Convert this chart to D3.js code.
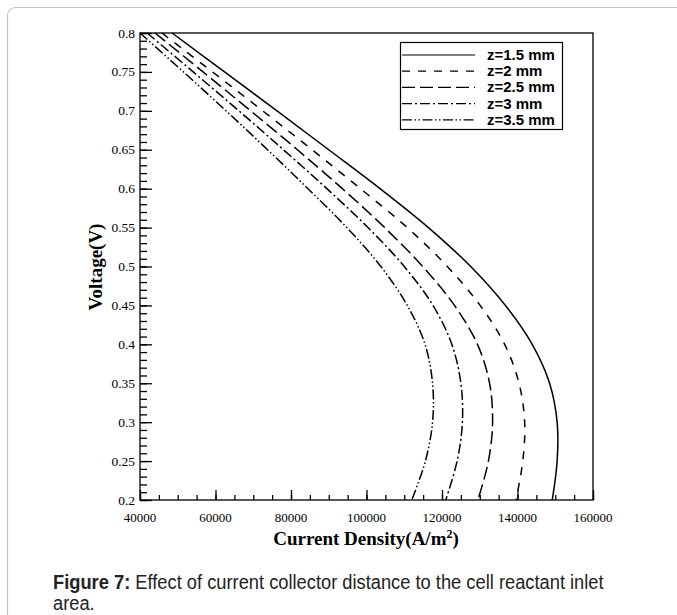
<!DOCTYPE html>
<html lang="en">
<head>
<meta charset="utf-8">
<script src="https://d3js.org/d3.v7.min.js"></script>
<style>
  body { margin: 0; background: #fff; }
  svg { display: block; }
</style>
</head>
<body>
<script>
// voltage grid shared by every curve
var voltage = [0.8, 0.75, 0.7, 0.65, 0.6, 0.55, 0.5, 0.45, 0.4, 0.35, 0.3, 0.25, 0.2];

// current density (A/m2), one list per distance
var z15 = [48500, 62400, 76300, 90000, 103600, 116400, 127600, 136800, 143900, 148500, 150500, 150500, 149200];
var z20 = [45800, 59200, 72500, 85600, 98400, 110800, 121400, 130100, 136600, 140400, 141900, 141400, 139600];
var z25 = [44000, 56700, 69300, 81700, 93600, 104800, 114900, 123300, 129400, 132600, 133400, 132300, 129500];
var z30 = [41900, 54100, 66200, 78000, 89500, 100400, 110000, 117600, 122600, 125000, 125400, 124000, 121000];
var z35 = [40000, 51500, 62800, 73800, 84500, 94800, 103800, 110800, 115500, 117500, 117500, 115600, 112000];

var seriesNames = ["z=1.5 mm", "z=2 mm", "z=2.5 mm", "z=3 mm", "z=3.5 mm"];
var seriesValues = [z15, z20, z25, z30, z35];
var dashes = ["none", "8,8", "13,5", "10,3,2,3", "10,2.5,1.5,2.5,1.5,2.5"];

var xTicks = [40000, 60000, 80000, 100000, 120000, 140000, 160000];
var yTicks = [0.2, 0.25, 0.3, 0.35, 0.4, 0.45, 0.5, 0.55, 0.6, 0.65, 0.7, 0.75, 0.8];

var width = 677, height = 615;
var plot = {left: 140, right: 593, top: 33, bottom: 500};

var svg = d3.select("body").append("svg")
  .attr("width", width)
  .attr("height", height);

// page frame
svg.append("rect")
  .attr("x", 7.5).attr("y", 7.5)
  .attr("width", 720).attr("height", 700)
  .attr("rx", 8)
  .attr("fill", "none")
  .attr("stroke", "#c4c4c4")
  .attr("stroke-width", 1.2);

var x = d3.scaleLinear().domain([40000, 160000]).range([plot.left, plot.right]);
var y = d3.scaleLinear().domain([0.2, 0.8]).range([plot.bottom, plot.top]);

// plot box
svg.append("rect")
  .attr("x", plot.left).attr("y", plot.top)
  .attr("width", plot.right - plot.left)
  .attr("height", plot.bottom - plot.top)
  .attr("fill", "none")
  .attr("stroke", "#000")
  .attr("stroke-width", 1.3);

// bottom axis, ticks pointing inward
var xMinor = d3.axisTop(x).tickValues(d3.range(40000, 160001, 5000)).tickSize(5).tickFormat("");
var xMajor = d3.axisTop(x).tickValues(xTicks).tickSize(10).tickFormat("");
[xMinor, xMajor].forEach(function(ax) {
  var g = svg.append("g").attr("transform", "translate(0," + plot.bottom + ")").call(ax);
  g.select(".domain").remove();
  g.selectAll("line").attr("stroke", "#000").attr("stroke-width", 1.3);
});
svg.append("g").selectAll("text")
  .data(xTicks).enter().append("text")
  .attr("x", function(d) { return x(d); })
  .attr("y", 522)
  .attr("text-anchor", "middle")
  .attr("font-family", "Liberation Serif, Times New Roman, serif")
  .attr("font-size", 13)
  .text(function(d) { return d; });

// left axis, ticks pointing inward
var yMinor = d3.axisRight(y).tickValues(d3.range(20, 81, 1).map(function(v) { return v / 100; })).tickSize(7).tickFormat("");
var yMajor = d3.axisRight(y).tickValues(yTicks).tickSize(12).tickFormat("");
[yMinor, yMajor].forEach(function(ax) {
  var g = svg.append("g").attr("transform", "translate(" + plot.left + ",0)").call(ax);
  g.select(".domain").remove();
  g.selectAll("line").attr("stroke", "#000").attr("stroke-width", 1.3);
});
svg.append("g").selectAll("text")
  .data(yTicks).enter().append("text")
  .attr("x", 135)
  .attr("y", function(d) { return y(d) + 4.5; })
  .attr("text-anchor", "end")
  .attr("font-family", "Liberation Serif, Times New Roman, serif")
  .attr("font-size", 13.5)
  .text(function(d) { return d; });

// curves
var line = d3.line()
  .x(function(d) { return x(d[0]); })
  .y(function(d) { return y(d[1]); })
  .curve(d3.curveCatmullRom.alpha(0.5));

seriesValues.forEach(function(vals, i) {
  var pts = vals.map(function(v, j) { return [v, voltage[j]]; });
  svg.append("path")
    .datum(pts)
    .attr("d", line)
    .attr("fill", "none")
    .attr("stroke", "#000")
    .attr("stroke-width", 1.5)
    .attr("stroke-dasharray", dashes[i]);
});

// legend
var legend = svg.append("g");
legend.append("rect")
  .attr("x", 400.5).attr("y", 42.5)
  .attr("width", 162).attr("height", 87)
  .attr("fill", "#fff")
  .attr("stroke", "#000")
  .attr("stroke-width", 1.2);
seriesNames.forEach(function(name, i) {
  var ly = 55 + i * 16.2;
  legend.append("line")
    .attr("x1", 402).attr("x2", 475)
    .attr("y1", ly).attr("y2", ly)
    .attr("stroke", "#000")
    .attr("stroke-width", 1.2)
    .attr("stroke-dasharray", dashes[i]);
  legend.append("text")
    .attr("x", 487).attr("y", ly + 5)
    .attr("font-family", "Liberation Sans, Arial, sans-serif")
    .attr("font-weight", "bold")
    .attr("font-size", 15)
    .text(name);
});

// axis titles
var xt = svg.append("text")
  .attr("x", 366).attr("y", 545)
  .attr("text-anchor", "middle")
  .attr("font-family", "Liberation Serif, Times New Roman, serif")
  .attr("font-weight", "bold")
  .attr("font-size", 19);
xt.append("tspan").text("Current Density(A/m");
xt.append("tspan").attr("dy", -7).attr("font-size", 12).text("2");
xt.append("tspan").attr("dy", 7).text(")");

svg.append("text")
  .attr("transform", "translate(102,267) rotate(-90)")
  .attr("text-anchor", "middle")
  .attr("font-family", "Liberation Serif, Times New Roman, serif")
  .attr("font-weight", "bold")
  .attr("font-size", 19)
  .text("Voltage(V)");

// caption (narrow sans, squeezed horizontally)
var capG = svg.append("g").attr("transform", "translate(53,0) scale(0.915,1)");
var cap = capG.append("text")
  .attr("x", 0).attr("y", 589)
  .attr("font-family", "Liberation Sans, Arial, sans-serif")
  .attr("font-size", 20)
  .attr("fill", "#222");
cap.append("tspan").attr("font-weight", "bold").text("Figure 7:");
cap.append("tspan").text(" Effect of current collector distance to the cell reactant inlet");
capG.append("text")
  .attr("x", 0).attr("y", 610)
  .attr("font-family", "Liberation Sans, Arial, sans-serif")
  .attr("font-size", 20)
  .attr("fill", "#222")
  .text("area.");
</script>
</body>
</html>
